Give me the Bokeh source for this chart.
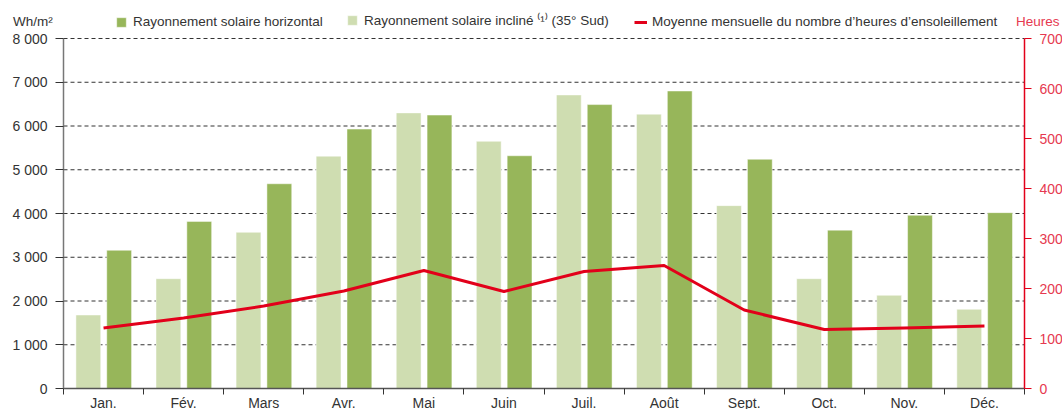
from bokeh.plotting import figure
from bokeh.models import (Range1d, LinearAxis, FixedTicker, Legend, LegendItem,
                          ColumnDataSource)
from bokeh.embed import file_html
from bokeh.resources import INLINE

# ---- data ----
months = ["Jan.", "Fév.", "Mars", "Avr.", "Mai", "Juin", "Juil.", "Août",
          "Sept.", "Oct.", "Nov.", "Déc."]
horizontal = [3160, 3820, 4680, 5930, 6250, 5320, 6490, 6800, 5240, 3620, 3960, 4020]
incline = [1680, 2510, 3570, 5310, 6300, 5650, 6710, 6270, 4180, 2510, 2130, 1810]
heures = [121, 141, 165, 195, 236, 194, 234, 246, 157, 118, 121, 125]
left_ticks = [0, 1000, 2000, 3000, 4000, 5000, 6000, 7000, 8000]
left_tick_labels = ["0", "1 000", "2 000", "3 000", "4 000", "5 000", "6 000", "7 000", "8 000"]
right_ticks = [0, 100, 200, 300, 400, 500, 600, 700]
legend_labels = ["Rayonnement solaire horizontal",
                 "Rayonnement solaire incliné \u207d\u00b9\u207e (35° Sud)",
                 "Moyenne mensuelle du nombre d\u2019heures d\u2019ensoleillement"]
left_title = "Wh/m\u00b2"
right_title = "Heures"

# ---- style ----
FONT = "Liberation Sans"
DARK = "#97b65a"
LIGHT = "#cfddb1"
RED = "#e2001a"
RED_TXT = "#e63950"
TXT = "#333333"

n = len(months)
idx = list(range(n))
src = ColumnDataSource(dict(
    x_light=[i + 0.31 for i in idx],
    x_dark=[i + 0.695 for i in idx],
    xc=[i + 0.5 for i in idx],
    horizontal=horizontal,
    incline=incline,
    heures=heures,
))
grid_src = ColumnDataSource(dict(x0=[0] * len(left_ticks), x1=[n] * len(left_ticks),
                                 y=left_ticks))

# ---- layout (pixels): the frame covers the whole canvas, axes are pinned inside ----
W, H = 1062, 409
PL, PR, PT, PB = 63, 1024, 38, 388     # plotting area edges
YMAX, HMAX = left_ticks[-1], right_ticks[-1]
ux = (PR - PL) / n                      # px per month
uy = (PB - PT) / YMAX                   # px per Wh/m2
uh = (PB - PT) / HMAX                   # px per hour
x_range = Range1d(-PL / ux, n + (W - PR) / ux)
y_range = Range1d(-(H - PB) / uy, YMAX + PT / uy)
h_range = Range1d(-(H - PB) / uh, HMAX + PT / uh)

p = figure(width=W, height=H, x_range=x_range, y_range=y_range,
           output_backend="svg", toolbar_location=None,
           min_border=0, min_border_left=0, min_border_right=0,
           min_border_top=0, min_border_bottom=0)
p.outline_line_color = None
p.background_fill_color = "white"
p.border_fill_color = "white"
p.extra_y_ranges = {"h": h_range}
p.xgrid.visible = False
p.ygrid.visible = False

# dashed horizontal grid lines (limited to the plotting area)
p.segment(x0="x0", x1="x1", y0="y", y1="y", source=grid_src,
          line_color="#333333", line_dash="4 3", line_width=1)

# bars & line
r_light = p.vbar(x="x_light", top="incline", width=0.31, source=src,
                 fill_color=LIGHT, line_color="white", line_width=0.8, line_alpha=0.6)
r_dark = p.vbar(x="x_dark", top="horizontal", width=0.31, source=src,
                fill_color=DARK, line_color="white", line_width=0.8, line_alpha=0.6)
r_line = p.line(x="xc", y="heures", source=src, y_range_name="h",
                line_color=RED, line_width=3, line_join="round")
# invisible renderer used for text-only legend entries (axis titles)
r_none = p.scatter(x=[], y=[], size=0, fill_alpha=0, line_alpha=0)

# left axis
ya = p.yaxis[0]
ya.fixed_location = 0
ya.bounds = (0, YMAX)
ya.ticker = FixedTicker(ticks=left_ticks)
ya.major_label_overrides = {t: l for t, l in zip(left_ticks, left_tick_labels)}
ya.axis_line_color = "#777777"
ya.axis_line_width = 1.5
ya.major_tick_line_color = TXT
ya.major_tick_out = 8
ya.major_tick_in = 0
ya.minor_tick_line_color = None
ya.major_label_standoff = 8
ya.major_label_text_font = FONT
ya.major_label_text_font_size = "14px"
ya.major_label_text_color = TXT

# bottom axis
xa = p.xaxis[0]
xa.fixed_location = 0
xa.bounds = (0, n)
xa.ticker = FixedTicker(ticks=[i + 0.5 for i in idx], minor_ticks=list(range(n + 1)))
xa.major_label_overrides = {i + 0.5: m for i, m in zip(idx, months)}
xa.axis_line_color = "#555555"
xa.axis_line_width = 1.5
xa.major_tick_line_color = None
xa.major_tick_out = 0
xa.major_tick_in = 0
xa.minor_tick_line_color = TXT
xa.minor_tick_out = 6
xa.minor_tick_in = 0
xa.major_label_standoff = 0
xa.major_label_text_font = FONT
xa.major_label_text_font_size = "14px"
xa.major_label_text_color = TXT

# right axis
ra = LinearAxis(y_range_name="h", ticker=FixedTicker(ticks=right_ticks),
                fixed_location=n, bounds=(0, HMAX))
ra.axis_line_color = RED
ra.axis_line_width = 1.5
ra.major_tick_line_color = RED
ra.major_tick_out = 7
ra.major_tick_in = 0
ra.minor_tick_line_color = None
ra.major_label_standoff = 8
ra.major_label_text_font = FONT
ra.major_label_text_font_size = "14px"
ra.major_label_text_color = RED_TXT
p.add_layout(ra, "right")

# legend rows are positioned relative to the frame bottom (= canvas bottom)
LEG_Y = H - 14 - 15


def make_legend(label, renderer, x_px, color=TXT, glyph_w=12, standoff=6):
    lg = Legend(items=[LegendItem(label=label, renderers=[renderer])],
                orientation="horizontal", location=(x_px, LEG_Y),
                padding=0, margin=0, spacing=0, label_standoff=standoff,
                glyph_width=glyph_w, glyph_height=12, label_height=12,
                border_line_color=None, background_fill_alpha=0,
                label_text_font=FONT, label_text_font_size="13.5px",
                label_text_color=color, click_policy="none")
    p.add_layout(lg)


make_legend(left_title, r_none, 12, glyph_w=1, standoff=0)
make_legend(legend_labels[0], r_dark, 115)
make_legend(legend_labels[1], r_light, 346)
make_legend(legend_labels[2], r_line, 634, glyph_w=13, standoff=5)
make_legend(right_title, r_none, 1015, color=RED_TXT, glyph_w=1, standoff=0)

open("out.html", "w").write(file_html(p, INLINE))
